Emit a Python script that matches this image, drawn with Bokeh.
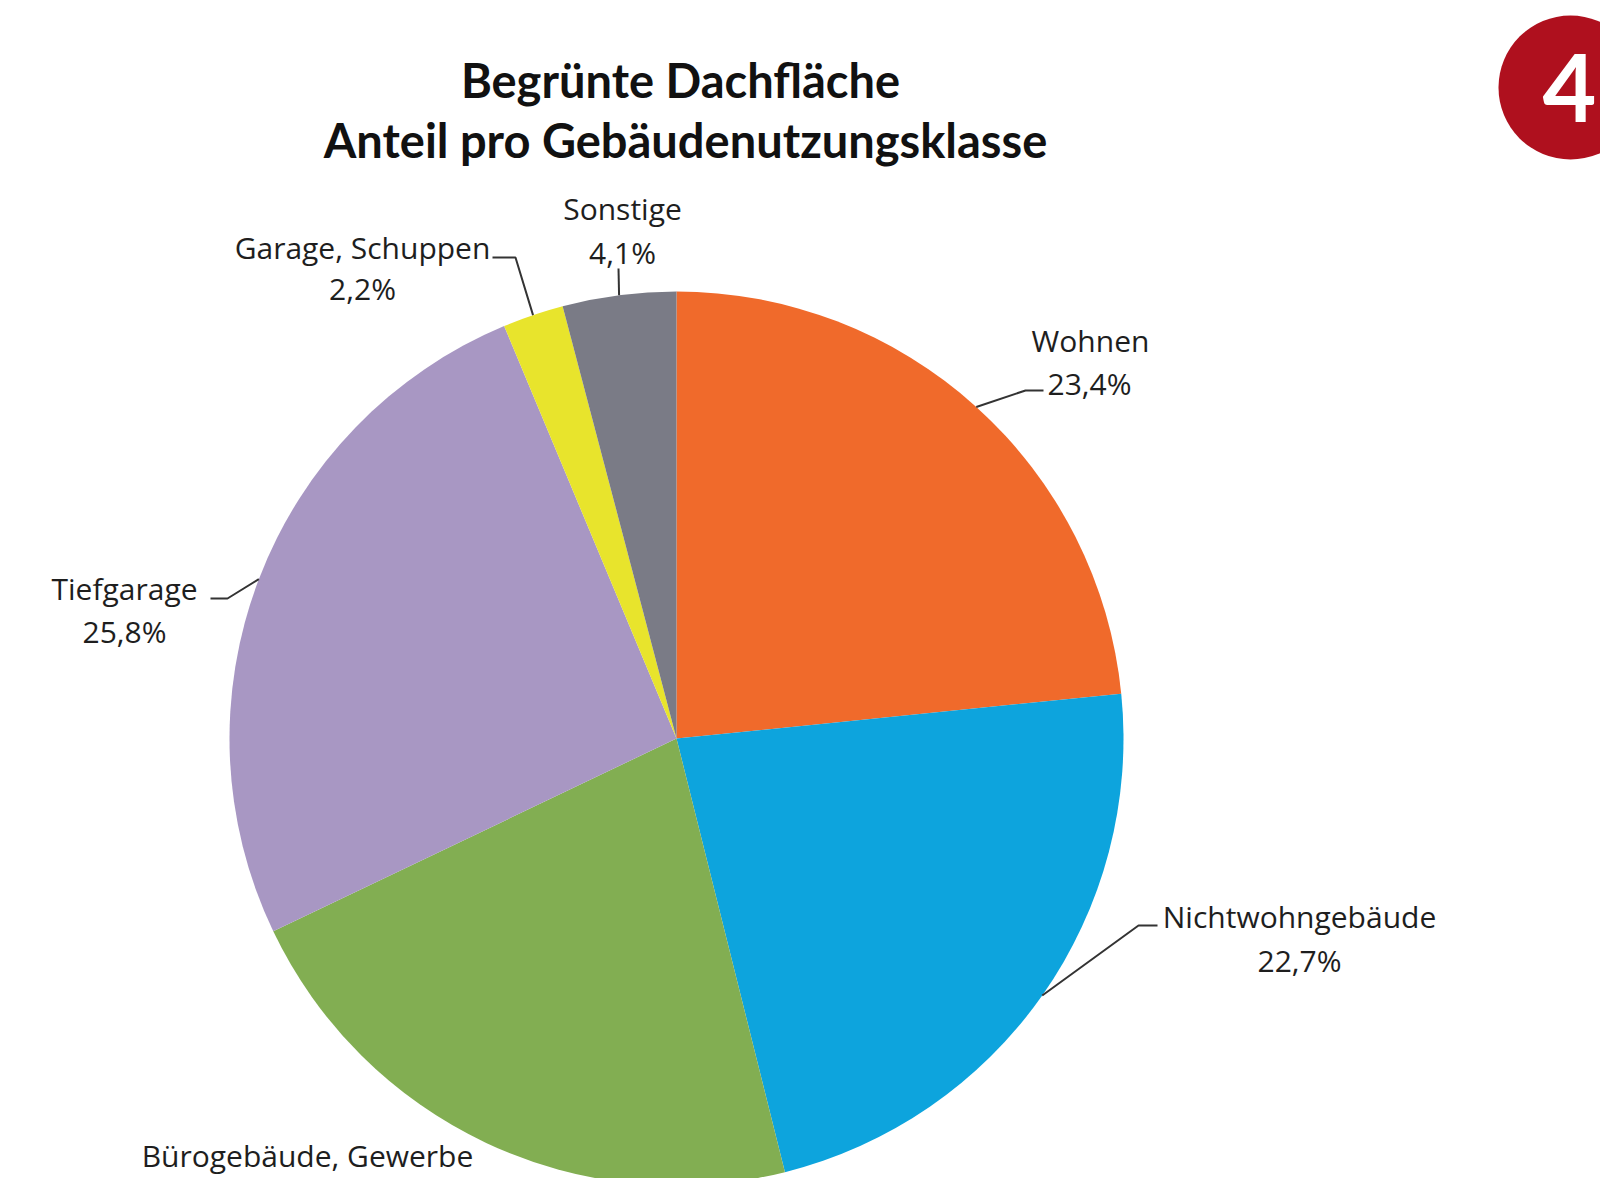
import numpy as np
from bokeh.plotting import figure
from bokeh.models import Range1d, ColumnDataSource, Label
from bokeh.core.properties import value
from bokeh.embed import file_html
from bokeh.resources import INLINE

# ---- data ----
categories = ["Wohnen", "Nichtwohngebäude", "Bürogebäude, Gewerbe",
              "Tiefgarage", "Garage, Schuppen", "Sonstige"]
shares = [23.4, 22.7, 21.8, 25.8, 2.2, 4.1]
pct_labels = ["23,4%", "22,7%", "21,8%", "25,8%", "2,2%", "4,1%"]
colors = ["#F06A2B", "#0DA4DD", "#82AE52", "#A897C3", "#E8E42C", "#7A7B86"]
title_lines = ["Begrünte Dachfläche", "Anteil pro Gebäudenutzungsklasse"]
badge_text = "4"

# ---- layout (reference pixel coordinates, y measured downward) ----
W, H = 1600, 1178
def Y(v):
    return 1185 - v

CX, CY, R = 676, 738, 447
# name position, pct position, leader elbow, leader end
name_pos = [(1090, 340), (1299, 916), (307, 1155), (124, 588), (362, 247), (622, 208)]
pct_pos = [(1089, 383), (1299, 960), None, (124, 631), (362, 288), (622, 252)]
elbows = [(1025, 390), (1138, 925), None, (227, 598), (515, 257), (618, 268)]
ends = [(1043, 390), (1157, 925), None, (210, 598), (492, 257), (618, 268)]

p = figure(width=W, height=H, x_range=Range1d(0, W), y_range=Range1d(Y(H), Y(0)),
           output_backend="svg", toolbar_location=None, min_border=0,
           x_axis_location=None, y_axis_location=None)
p.grid.visible = False
p.outline_line_color = None
p.background_fill_color = "white"
p.border_fill_color = "white"

vals = np.array(shares, dtype=float)
frac = vals / vals.sum()
cum_end = np.cumsum(frac)
cum_start = cum_end - frac
start_angle = np.pi / 2 - 2 * np.pi * cum_end
end_angle = np.pi / 2 - 2 * np.pi * cum_start
mid_angle = (start_angle + end_angle) / 2

src = ColumnDataSource(dict(x=[CX] * len(shares), y=[Y(CY)] * len(shares),
                            start=start_angle, end=end_angle, color=colors))
p.wedge(x="x", y="y", radius=R, start_angle="start", end_angle="end",
        fill_color="color", line_color=None, source=src)

label_font = value("Open Sans")
label_size = "30px"
text_color = "#1e1e1e"

# leader lines
for i in range(len(shares)):
    if elbows[i] is None:
        continue
    ex = CX + R * np.cos(mid_angle[i])
    ey = Y(CY) + R * np.sin(mid_angle[i])
    xs = [ex, elbows[i][0], ends[i][0]]
    ys = [ey, Y(elbows[i][1]), Y(ends[i][1])]
    p.line(xs, ys, line_color="#333333", line_width=2)

# badge
p.ellipse(x=[1570], y=[Y(87)], width=144, height=144,
          fill_color="#AF101E", line_color=None)
p.add_layout(Label(x=1569, y=Y(87), text=badge_text, text_font="Lato",
                   text_font_size="93px", text_font_style="bold", text_color="white",
                   text_align="center", text_baseline="middle"))

# labels
p.text(x=[q[0] for q in name_pos], y=[Y(q[1]) for q in name_pos], text=categories,
       text_font=label_font, text_font_size=label_size, text_color=text_color,
       text_align="center", text_baseline="middle")
pidx = [i for i in range(len(shares)) if pct_pos[i] is not None]
p.text(x=[pct_pos[i][0] for i in pidx], y=[Y(pct_pos[i][1]) for i in pidx],
       text=[pct_labels[i] for i in pidx],
       text_font=label_font, text_font_size=label_size, text_color=text_color,
       text_align="center", text_baseline="middle")

# title
p.text(x=[680, 685], y=[Y(79), Y(139)], text=title_lines,
       text_font=value("Lato"), text_font_size="47px", text_font_style="bold",
       text_color="#111111", text_align="center", text_baseline="middle")

open("out.html", "w").write(file_html(p, INLINE))
